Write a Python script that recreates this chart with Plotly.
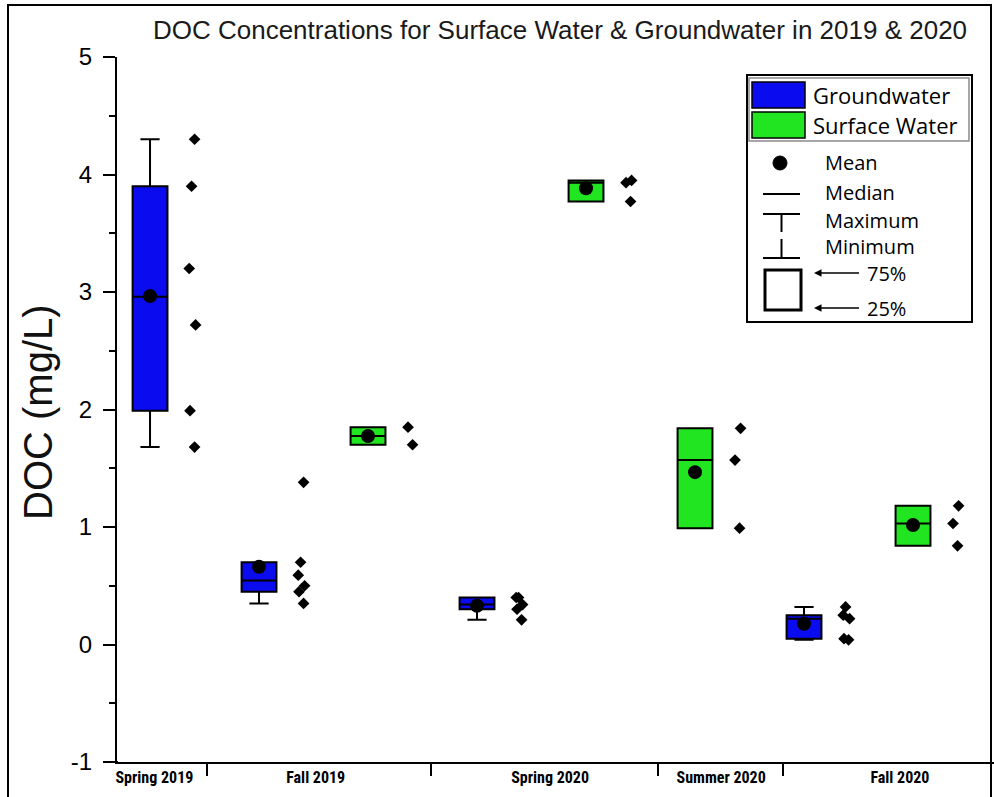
import numpy as np
import plotly.graph_objects as go

# ---- DOC samples (mg/L), one list per season / water type ----
spring2019_gw = [4.30, 3.90, 3.20, 2.72, 1.99, 1.68]
fall2019_gw = [1.38, 0.70, 0.59, 0.50, 0.45, 0.35]
fall2019_sw = [1.85, 1.70]
spring2020_gw = [0.40, 0.40, 0.34, 0.30, 0.21]
spring2020_sw = [3.95, 3.93, 3.77]
summer2020_sw = [1.84, 1.57, 0.99]
fall2020_gw = [0.32, 0.25, 0.22, 0.05, 0.04]
fall2020_sw = [1.18, 1.03, 0.84]

samples = [spring2019_gw, fall2019_gw, fall2019_sw, spring2020_gw,
           spring2020_sw, summer2020_sw, fall2020_gw, fall2020_sw]
water_type = ["Groundwater", "Groundwater", "Surface Water", "Groundwater",
              "Surface Water", "Surface Water", "Groundwater", "Surface Water"]

# x-axis season labels and divider ticks (axis units, boxes sit at 1..8)
season_labels = ["Spring 2019", "Fall 2019", "Spring 2020", "Summer 2020", "Fall 2020"]
label_pos = [1.04, 2.52, 4.67, 6.24, 7.88]
divider_pos = [1.52, 3.58, 5.66, 6.81]
y_ticks = [-1, 0, 1, 2, 3, 4, 5]
y_ticktext = ["-1", "0", "1", "2", "3", "4", "5"]

fill = {"Groundwater": "#0b0bef", "Surface Water": "#21e521"}

# figure geometry (pixels) used for the hand-built key
FIG_W, FIG_H = 994, 797
M_L, M_R, M_T, M_B = 117, 0, 57, 35
PW, PH = FIG_W - M_L - M_R, FIG_H - M_T - M_B


def px(x):
    return (x - M_L) / PW


def py(y):
    return (FIG_H - M_B - y) / PH


def box_stats(v):
    v = np.asarray(v, dtype=float)
    q1, q3 = np.percentile(v, [25, 75], method="inverted_cdf")
    iqr = q3 - q1
    lo = v[v >= q1 - 1.5 * iqr].min()
    hi = v[v <= q3 + 1.5 * iqr].max()
    return q1, float(np.median(v)), q3, lo, hi, float(v.mean())


fig = go.Figure()
point_shift = 0.39

for i, (vals, kind) in enumerate(zip(samples, water_type)):
    pos = i + 1
    q1, med, q3, lo, hi, mean = box_stats(vals)
    fig.add_trace(go.Box(
        x=[pos], q1=[q1], median=[med], q3=[q3], lowerfence=[lo], upperfence=[hi],
        width=0.32, whiskerwidth=0.55, fillcolor=fill[kind],
        line=dict(color="black", width=2), boxpoints=False, showlegend=False,
        name=kind))
    # raw samples beside the box
    fig.add_trace(go.Box(
        x=[pos + point_shift] * len(vals), y=vals, boxpoints="all", pointpos=0,
        jitter=0.6, width=0.12, fillcolor="rgba(0,0,0,0)",
        line=dict(color="rgba(0,0,0,0)", width=0),
        marker=dict(symbol="diamond", size=9, color="black"),
        showlegend=False, name=kind))
    # mean
    fig.add_trace(go.Scatter(
        x=[pos], y=[mean], mode="markers",
        marker=dict(symbol="circle", size=14, color="black"),
        showlegend=False, name="Mean"))

shapes = []
annotations = []

# outer frame
shapes.append(dict(type="rect", xref="paper", yref="paper",
                   x0=px(8), x1=px(991), y0=py(812), y1=py(5),
                   line=dict(color="black", width=2), layer="above"))
# x-axis line continues slightly left of the y-axis
shapes.append(dict(type="line", xref="paper", yref="paper",
                   x0=px(103), x1=px(118), y0=0, y1=0,
                   line=dict(color="black", width=2)))

# ---- key ----
shapes.append(dict(type="rect", xref="paper", yref="paper",
                   x0=px(747), x1=px(972), y0=py(322), y1=py(75),
                   line=dict(color="black", width=2), fillcolor="white"))
shapes.append(dict(type="rect", xref="paper", yref="paper",
                   x0=px(749), x1=px(969), y0=py(141), y1=py(78),
                   line=dict(color="#8a8a8a", width=1.5)))
for (y0, y1), kind in zip([(82, 108), (112, 138)], ["Groundwater", "Surface Water"]):
    shapes.append(dict(type="rect", xref="paper", yref="paper",
                       x0=px(752), x1=px(805), y0=py(y1), y1=py(y0),
                       line=dict(color="black", width=1.5), fillcolor=fill[kind]))
    annotations.append(dict(xref="paper", yref="paper", x=px(811), y=py((y0 + y1) / 2),
                            text=kind, showarrow=False, xanchor="left", yanchor="middle",
                            font=dict(family="Open Sans", size=22, color="black")))

key_font = dict(family="Open Sans", size=20, color="black")
shapes.append(dict(type="circle", xref="paper", yref="paper",
                   x0=px(773), x1=px(787), y0=py(170), y1=py(156),
                   fillcolor="black", line=dict(color="black", width=1)))
shapes.append(dict(type="line", xref="paper", yref="paper",
                   x0=px(763), x1=px(800), y0=py(194), y1=py(194),
                   line=dict(color="black", width=2)))
shapes.append(dict(type="line", xref="paper", yref="paper",
                   x0=px(763), x1=px(800), y0=py(214), y1=py(214),
                   line=dict(color="black", width=2)))
shapes.append(dict(type="line", xref="paper", yref="paper",
                   x0=px(781.5), x1=px(781.5), y0=py(232), y1=py(214),
                   line=dict(color="black", width=2)))
shapes.append(dict(type="line", xref="paper", yref="paper",
                   x0=px(763), x1=px(800), y0=py(258), y1=py(258),
                   line=dict(color="black", width=2)))
shapes.append(dict(type="line", xref="paper", yref="paper",
                   x0=px(781.5), x1=px(781.5), y0=py(258), y1=py(239),
                   line=dict(color="black", width=2)))
shapes.append(dict(type="rect", xref="paper", yref="paper",
                   x0=px(765), x1=px(801), y0=py(310), y1=py(270),
                   line=dict(color="black", width=3)))
for txt, yc in [("Mean", 162), ("Median", 192), ("Maximum", 220), ("Minimum", 246)]:
    annotations.append(dict(xref="paper", yref="paper", x=px(823), y=py(yc), text=txt,
                            showarrow=False, xanchor="left", yanchor="middle", font=key_font))
for txt, yc in [("75%", 273), ("25%", 308)]:
    annotations.append(dict(xref="paper", yref="paper", x=px(814), y=py(yc), text=txt,
                            showarrow=True, ax=72, ay=0, arrowhead=2, arrowsize=1,
                            arrowwidth=1.5, arrowcolor="black", startstandoff=6,
                            font=key_font))

# y-axis title
annotations.append(dict(xref="paper", yref="paper", x=px(38), y=py(412),
                        text="DOC (mg/L)", textangle=-90, showarrow=False,
                        xanchor="center", yanchor="middle",
                        font=dict(family="Liberation Sans, Arial, sans-serif",
                                  size=40, color="#111111")))

fig.update_layout(
    width=FIG_W, height=FIG_H,
    margin=dict(l=M_L, r=M_R, t=M_T, b=M_B),
    paper_bgcolor="white", plot_bgcolor="white",
    showlegend=False,
    title=dict(text="DOC Concentrations for Surface Water & Groundwater in 2019 & 2020",
               x=560 / FIG_W, xanchor="center", xref="container",
               y=1 - 30 / FIG_H, yanchor="middle", yref="container",
               font=dict(family="Liberation Sans, Arial, sans-serif", size=26,
                         color="#1a1a1a")),
    xaxis=dict(range=[0.697, 8.743], showline=True, linecolor="black", linewidth=2,
               tickmode="array", tickvals=label_pos, ticktext=season_labels,
               ticks="", showgrid=False, zeroline=False,
               tickfont=dict(family="Liberation Sans Narrow, Arial Narrow, Roboto Condensed, sans-serif",
                             size=16, color="black", weight="bold"),
               minor=dict(tickmode="array", tickvals=divider_pos, ticks="outside",
                          ticklen=12, tickwidth=2, tickcolor="black", showgrid=False)),
    yaxis=dict(range=[-1, 5], showline=True, linecolor="black", linewidth=2,
               tickmode="array", tickvals=y_ticks, ticktext=y_ticktext,
               ticks="outside", ticklen=12,
               tickwidth=2, tickcolor="black", showgrid=False, zeroline=False,
               ticklabelstandoff=6,
               tickfont=dict(family="Liberation Sans, Arial, sans-serif", size=24,
                             color="black"),
               minor=dict(dtick=0.5, ticks="outside", ticklen=6, tickwidth=2,
                          tickcolor="black", showgrid=False)),
    shapes=shapes,
    annotations=annotations,
)

fig.write_html("out.html")
